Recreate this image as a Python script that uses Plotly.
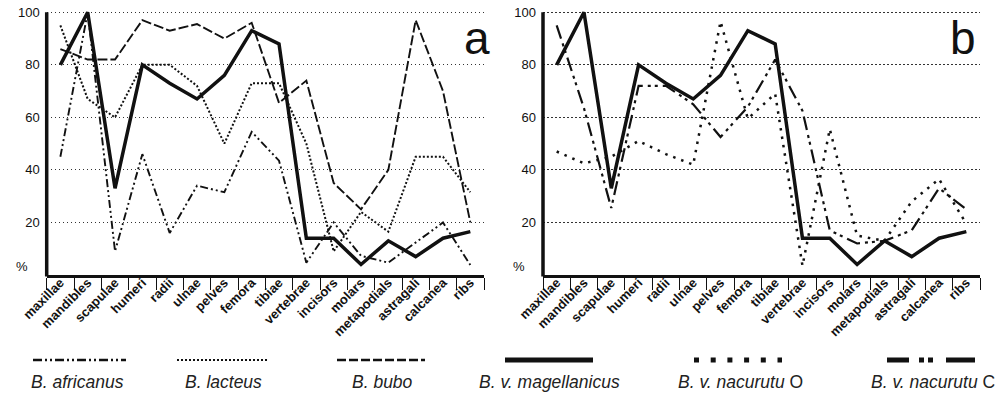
import plotly.graph_objects as go

categories = ["maxillae", "mandibles", "scapulae", "humeri", "radii", "ulnae", "pelves",
              "femora", "tibiae", "vertebrae", "incisors", "molars", "metapodials",
              "astragali", "calcanea", "ribs"]

b_africanus = [45, 100, 9, 46, 16, 34, 31.5, 54.5, 43.5, 4.7, 20, 7.3, 4.7, 12.5, 20, 3.8]
b_lacteus = [95, 67, 60, 80, 80, 72, 50, 73, 73, 50, 9, 24, 16.5, 45, 45, 31.5]
b_bubo = [86, 82, 82, 97, 93, 95.5, 90, 96, 65.5, 74, 35, 25, 40, 97, 70, 20]
b_v_magellanicus = [80, 100, 33, 80, 73, 67, 76, 93, 88, 14, 14, 4, 13, 7, 14, 16.5]
b_v_nacurutu_O = [47, 42.5, 45, 51, 46, 42, 96.5, 59.5, 69, 3.5, 55.5, 15, 13, 28, 36.5, 19.5]
b_v_nacurutu_C = [95, 63.5, 25.5, 72, 72, 65, 52.5, 64, 82, 62.5, 17, 12, 13, 17, 33, 25]

y_ticks = [20, 40, 60, 80, 100]

FONT = "Liberation Sans, Arial, sans-serif"
INK = "#111111"

W, H = 999, 394
XDOM_A = [46.7 / W, 484 / W]
XDOM_B = [543 / W, 980 / W]
YDOM = [(H - 275) / H, (H - 4.4) / H]
YMAX = 103

fig = go.Figure()

panel_a = [
    (b_africanus, dict(width=1.9, dash="8px,3px,2px,3px,2px,3px")),
    (b_lacteus, dict(width=2, dash="2px,2px")),
    (b_bubo, dict(width=1.9, dash="10px,3px")),
    (b_v_magellanicus, dict(width=3.5)),
]
panel_b = [
    (b_v_nacurutu_O, dict(width=2.5, dash="2.5px,6px")),
    (b_v_nacurutu_C, dict(width=2.2, dash="14px,5px,3px,4px,3px,5px")),
    (b_v_magellanicus, dict(width=3.5)),
]

for vals, ln in panel_a:
    fig.add_trace(go.Scatter(x=categories, y=vals, mode="lines", xaxis="x", yaxis="y",
                             line=dict(color=INK, **ln), showlegend=False, hoverinfo="skip"))
for vals, ln in panel_b:
    fig.add_trace(go.Scatter(x=categories, y=vals, mode="lines", xaxis="x2", yaxis="y2",
                             line=dict(color=INK, **ln), showlegend=False, hoverinfo="skip"))

xcommon = dict(type="category", categoryorder="array", categoryarray=categories,
               range=[-0.5, len(categories) - 0.5], tickangle=-45, automargin=False,
               tickfont=dict(family=FONT, size=13, color=INK, weight="bold"),
               showline=True, linewidth=3, linecolor=INK, showgrid=False, zeroline=False,
               ticks="outside", tickson="boundaries", ticklen=12, tickwidth=1, tickcolor=INK,
               ticklabelstandoff=-8)
ycommon = dict(range=[0, YMAX], tickvals=y_ticks, ticktext=[str(v) for v in y_ticks],
               tickfont=dict(family=FONT, size=13, color=INK), showline=False, automargin=False,
               showgrid=True, gridcolor="#333333", gridwidth=1, griddash="1.5px,2.5px",
               zeroline=False, ticks="", ticklabelstandoff=6, domain=YDOM)

fig.update_layout(
    width=W, height=H, margin=dict(l=0, r=0, t=0, b=0, autoexpand=False),
    paper_bgcolor="white", plot_bgcolor="white",
    xaxis=dict(domain=XDOM_A, anchor="y", **xcommon),
    yaxis=dict(anchor="x", **ycommon),
    xaxis2=dict(domain=XDOM_B, anchor="y2", **xcommon),
    yaxis2=dict(anchor="x2", **ycommon),
)

def ypaper(v):
    return YDOM[0] + (YDOM[1] - YDOM[0]) * v / YMAX

shapes = []
for dom in (XDOM_A, XDOM_B):
    shapes.append(dict(type="line", xref="paper", yref="paper", x0=dom[0], x1=dom[0],
                       y0=ypaper(-0.6), y1=ypaper(100), line=dict(color=INK, width=3.5)))

annotations = []
for dom, letter, lx in ((XDOM_A, "a", 477), (XDOM_B, "b", 962.5)):
    annotations.append(dict(text="%", xref="paper", yref="paper", x=dom[0] - 24.5 / W,
                            y=(H - 266) / H, showarrow=False, xanchor="center", yanchor="middle",
                            font=dict(family=FONT, size=13, color=INK)))
    annotations.append(dict(text=letter, xref="paper", yref="paper", x=lx / W,
                            y=(H - 38) / H, showarrow=False, xanchor="center", yanchor="middle",
                            font=dict(family=FONT, size=46, color=INK)))

legend_items = [
    ("<i>B. africanus</i>", 33, 126, 77, dict(width=2.5, dash="9px,3px,2px,3px,2px,3px")),
    ("<i>B. lacteus</i>", 177, 267, 223, dict(width=2, dash="2px,2px")),
    ("<i>B. bubo</i>", 337, 425, 382, dict(width=2.5, dash="9px,3px")),
    ("<i>B. v. magellanicus</i>", 505, 593, 549, dict(width=5)),
    ("<i>B. v. nacurutu</i> O", 694, 782, 740, dict(width=5, dash="5px,11.7px")),
    ("<i>B. v. nacurutu</i> C", 887, 975, 933, dict(width=5, dash="22px,10px,5px,4px,5px,13px,30px")),
]
for text, x0, x1, xc, ln in legend_items:
    shapes.append(dict(type="line", xref="paper", yref="paper", x0=x0 / W, x1=x1 / W,
                       y0=(H - 360) / H, y1=(H - 360) / H, line=dict(color=INK, **ln)))
    annotations.append(dict(text=text, xref="paper", yref="paper", x=xc / W, y=(H - 382) / H,
                            showarrow=False, xanchor="center", yanchor="middle",
                            font=dict(family=FONT, size=17.5, color="#222222")))

fig.update_layout(shapes=shapes, annotations=annotations)

fig.write_html(
    "out.html",
    config={"displayModeBar": False, "staticPlot": True},
    post_script="document.body.style.margin='0';document.body.style.padding='0';"
                "document.body.style.overflow='hidden';",
)
